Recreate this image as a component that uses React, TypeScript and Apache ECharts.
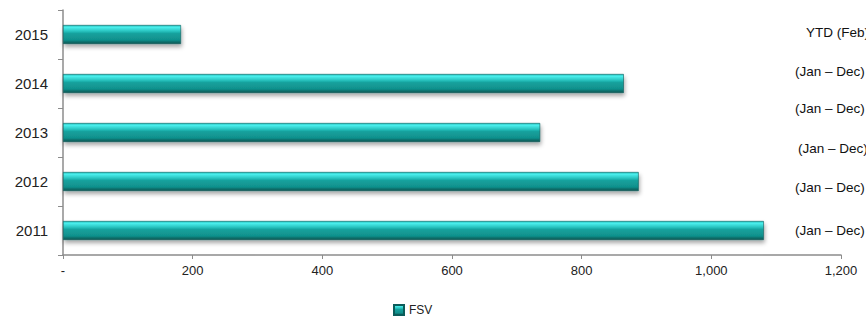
import React, { useEffect, useRef } from "react";
import * as echarts from "echarts";

const categories = ["2011", "2012", "2013", "2014", "2015"];
const fsvValues = [1081, 888, 736, 865, 182];
const seriesName = "FSV";
const xTicks = [0, 200, 400, 600, 800, 1000, 1200];
const periodNotes = ["YTD (Feb)", "(Jan – Dec)", "(Jan – Dec)", "(Jan – Dec)", "(Jan – Dec)", "(Jan – Dec)"];

const notePos = [
  [806, 32],
  [795, 71],
  [795, 108],
  [798, 148],
  [795, 187],
  [795, 230],
];

export default function App() {
  const ref = useRef<HTMLDivElement>(null);
  useEffect(() => {
    document.body.style.margin = "0";
    const chart = echarts.init(ref.current!, null, { renderer: "svg" });
    const barGrad = new echarts.graphic.LinearGradient(0, 0, 0, 1, [
      { offset: 0, color: "#2cc9c5" },
      { offset: 0.12, color: "#48ecea" },
      { offset: 0.3, color: "#2cc8c4" },
      { offset: 0.45, color: "#15a19d" },
      { offset: 0.8, color: "#10908c" },
      { offset: 0.9, color: "#0c6f6c" },
      { offset: 1, color: "#0a5957" },
    ]);
    chart.setOption({
      animation: false,
      grid: { left: 63, right: 25, top: 10, bottom: 71, containLabel: false },
      legend: {
        data: [seriesName],
        left: 388,
        top: 299,
        itemWidth: 10,
        itemHeight: 10,
        itemGap: 4,
        icon: "rect",
        textStyle: { fontFamily: "Liberation Sans, Arial", fontSize: 12, color: "#222" },
      },
      xAxis: {
        type: "value",
        min: xTicks[0],
        max: xTicks[xTicks.length - 1],
        interval: xTicks[1] - xTicks[0],
        splitLine: { show: false },
        axisLine: { show: true, lineStyle: { color: "#8c8c8c", width: 1.5 } },
        axisTick: { show: true, length: 4, lineStyle: { color: "#8c8c8c" } },
        axisLabel: {
          margin: 9,
          fontFamily: "Liberation Sans, Arial",
          fontSize: 13,
          color: "#222",
          formatter: (v: number) => (v === 0 ? "-" : v.toLocaleString("en-US")),
        },
      },
      yAxis: {
        type: "category",
        data: categories,
        axisLine: { show: true, lineStyle: { color: "#8c8c8c", width: 1.5 } },
        axisTick: { show: true, length: 5, lineStyle: { color: "#8c8c8c" } },
        axisLabel: {
          margin: 15,
          fontFamily: "Liberation Sans, Arial",
          fontSize: 15,
          color: "#222",
        },
      },
      series: [
        {
          name: seriesName,
          type: "bar",
          data: fsvValues,
          barWidth: 19,
          itemStyle: {
            color: barGrad,
            borderColor: "#0b5c5a",
            borderWidth: 0.6,
            shadowColor: "rgba(0,0,0,0.35)",
            shadowBlur: 4,
            shadowOffsetY: 3,
            shadowOffsetX: 1,
          },
        },
      ],
      graphic: periodNotes.map((t, i) => ({
        type: "text",
        x: notePos[i][0],
        y: notePos[i][1],
        style: {
          text: t,
          fontFamily: "Liberation Sans, Arial",
          fontSize: 13.5,
          fill: "#111",
          verticalAlign: "middle",
        },
      })),
    });
    return () => chart.dispose();
  }, []);
  return <div ref={ref} style={{ width: 866, height: 326, overflow: "hidden" }} />;
}
